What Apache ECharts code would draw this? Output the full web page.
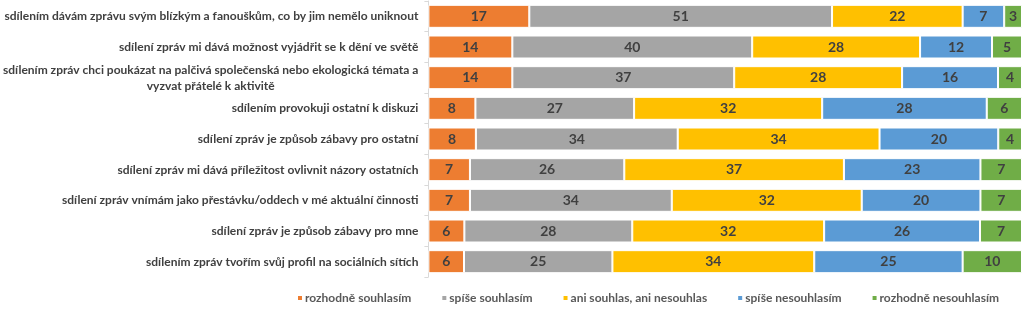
<!DOCTYPE html>
<html><head><meta charset="utf-8">
<script src="https://cdn.jsdelivr.net/npm/echarts@6/dist/echarts.min.js"></script>
<style>html,body{margin:0;padding:0;background:#fff}#c{width:1024px;height:325px}</style>
</head><body><div id="c"></div>
<script>
const categories = [
  'sdílením dávám zprávu svým blízkým a fanouškům, co by jim nemělo uniknout',
  'sdílení zpráv mi dává možnost vyjádřit se k dění ve světě',
  'sdílením zpráv chci poukázat na palčivá společenská nebo ekologická témata a\nvyzvat přátelé k aktivitě',
  'sdílením provokuji ostatní k diskuzi',
  'sdílení zpráv je způsob zábavy pro ostatní',
  'sdílení zpráv mi dává příležitost ovlivnit názory ostatních',
  'sdílení zpráv vnímám jako přestávku/oddech v mé aktuální činnosti',
  'sdílení zpráv je způsob zábavy pro mne',
  'sdílením zpráv tvořím svůj profil na sociálních sítích'
];
const seriesNames = ['rozhodně souhlasím', 'spíše souhlasím', 'ani souhlas, ani nesouhlas', 'spíše nesouhlasím', 'rozhodně nesouhlasím'];
const rozhodneSouhlasim   = [17, 14, 14, 8, 8, 7, 7, 6, 6];
const spiseSouhlasim      = [51, 40, 37, 27, 34, 26, 34, 28, 25];
const aniSouhlasAni       = [22, 28, 28, 32, 34, 37, 32, 32, 34];
const spiseNesouhlasim    = [7, 12, 16, 28, 20, 23, 20, 26, 25];
const rozhodneNesouhlasim = [3, 5, 4, 6, 4, 7, 7, 7, 10];
const colors = ['#ED7D31', '#A5A5A5', '#FFC000', '#5B9BD5', '#70AD47'];

const allSeries = [rozhodneSouhlasim, spiseSouhlasim, aniSouhlasAni, spiseNesouhlasim, rozhodneNesouhlasim];
// bars fill the full width (shares of each row's total), labels show the rounded values
const totals = categories.map((_, i) => allSeries.reduce((s, arr) => s + arr[i], 0));

const chart = echarts.init(document.getElementById('c'), null, {renderer: 'canvas'});
chart.setOption({
  animation: false,
  grid: {left: 425, right: 2, top: 1, bottom: 48, containLabel: false},
  xAxis: {type: 'value', min: 0, max: 100, show: false},
  yAxis: {
    type: 'category', data: categories, inverse: true,
    axisLine: {show: true, lineStyle: {color: '#D9D9D9'}},
    axisTick: {show: true, length: 4, lineStyle: {color: '#D9D9D9'}},
    axisLabel: {
      margin: 10, fontFamily: 'Lato', fontWeight: 'bold', fontSize: 12, color: '#404040', lineHeight: 16,
      formatter: v => v.split('\n').map(l => '{c|' + l + '}').join('\n'),
      rich: {c: {align: 'center', fontFamily: 'Lato', fontWeight: 'bold', fontSize: 12, color: '#404040', lineHeight: 16}}
    }
  },
  legend: {
    bottom: 16, left: 291, itemWidth: 6, itemHeight: 6, itemGap: 29, icon: 'rect',
    textStyle: {fontFamily: 'Lato', fontWeight: 'bold', fontSize: 12, color: '#595959', padding: [0, 0, 0, -3]},
    data: seriesNames
  },
  series: allSeries.map((arr, k) => ({
    name: seriesNames[k], type: 'bar', stack: 'total', barWidth: '75%',
    itemStyle: {color: colors[k], borderColor: '#fff', borderWidth: 1},
    label: {show: true, position: 'inside', fontFamily: 'Lato', fontWeight: 'bold', fontSize: 14, color: '#404040',
      formatter: p => arr[p.dataIndex]},
    data: arr.map((v, i) => v / totals[i] * 100)
  }))
});
</script></body></html>
